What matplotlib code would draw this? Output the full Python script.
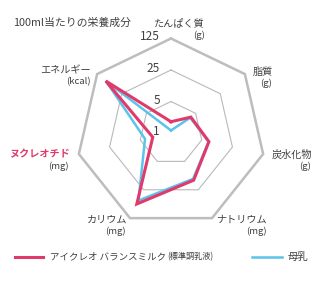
import numpy as np
import matplotlib
matplotlib.use("Agg")
import matplotlib.pyplot as plt

plt.rcParams['font.family'] = ['Noto Sans CJK JP', 'DejaVu Sans']

# ---- data ----
axes_labels = ["たんぱく質", "脂質", "炭水化物", "ナトリウム", "カリウム", "ヌクレオチド", "エネルギー"]
axes_units = ["(g)", "(g)", "(g)", "(mg)", "(mg)", "(mg)", "(kcal)"]
formula_values = [1.78, 3.67, 7.3, 14.5, 56.0, 2.6, 71.0]
breastmilk_values = [1.14, 3.5, 7.2, 13.5, 46.0, 3.9, 70.0]
ring_values = [5, 25, 125]
tick_labels = ["1", "5", "25", "125"]
series_names = ["アイクレオ バランスミルク", "(標準調乳液)", "母乳"]
title = "100ml当たりの栄養成分"

PINK = "#e03a6c"
BLUE = "#5cc3ea"
TEXT = "#404040"
GRID = "#b9b9b9"

W, H = 330, 290
fig = plt.figure(figsize=(W / 100, H / 100), dpi=100)

cx, cy, R = 171, 133, 94.5
ax = fig.add_axes([(cx - R) / W, (H - cy - R) / H, 2 * R / W, 2 * R / H], projection='polar')
ax.set_theta_zero_location('N')
ax.set_theta_direction(-1)
ax.set_ylim(0, 3)
ax.axis('off')

n = len(axes_labels)
theta = np.arange(n) * 2 * np.pi / n
theta_c = np.append(theta, theta[0])


def logr(vals):
    return np.log(np.asarray(vals, dtype=float)) / np.log(5)


for i, rv in enumerate(ring_values):
    r = logr([rv] * (n + 1))
    outer = i == len(ring_values) - 1
    ax.plot(theta_c, r, color="#bdbdbd" if outer else GRID,
            lw=1.8 if outer else 0.8, clip_on=False, zorder=1,
            solid_joinstyle='miter')

fr = logr(np.append(breastmilk_values, breastmilk_values[0]))
ax.plot(theta_c, fr, color=BLUE, lw=1.8, clip_on=False, zorder=3, solid_joinstyle='miter')
pr = logr(np.append(formula_values, formula_values[0]))
ax.plot(theta_c, pr, color=PINK, lw=2.2, clip_on=False, zorder=4, solid_joinstyle='miter')

# tick labels on the top axis
for i, lab in enumerate(tick_labels):
    ax.annotate(lab, xy=(0, i), xytext=(-11, 1.5), textcoords='offset pixels',
                ha='right', va='center', fontsize=8.5, color=TEXT, zorder=5,
                annotation_clip=False)


def px(x, y):
    return x / W, 1 - y / H


label_pos = [(205, 23), (273, 72), (312, 155), (267, 220), (127, 220), (71, 154), (91, 70)]
unit_pos = [(205, 35), (272, 83), (311, 166), (267, 231), (126, 231), (69, 166), (91, 82)]
for i in range(n):
    is_nuc = i == 5
    fig.text(*px(*label_pos[i]), axes_labels[i], ha='right', va='center',
             fontsize=7.3, color=PINK if is_nuc else TEXT,
             fontweight='bold' if is_nuc else 'normal')
    fig.text(*px(*unit_pos[i]), axes_units[i], ha='right', va='center',
             fontsize=6.8, color=TEXT)

fig.text(*px(13, 23), title, ha='left', va='center', fontsize=7.8, color=TEXT)

# legend
ly = 257
fig.add_artist(plt.Line2D([15 / W, 43 / W], [1 - ly / H] * 2, color=PINK, lw=2.2))
t1 = fig.text(*px(50, ly), series_names[0], ha='left', va='center', fontsize=6.8, color=TEXT)
ax.annotate(series_names[1], xy=(1, 0.5), xycoords=t1, xytext=(1, 0),
            textcoords='offset pixels', ha='left', va='center', fontsize=5.9,
            color=TEXT, annotation_clip=False)
fig.add_artist(plt.Line2D([252 / W, 282 / W], [1 - ly / H] * 2, color=BLUE, lw=1.8))
fig.text(*px(288, ly), series_names[2], ha='left', va='center', fontsize=7.5, color=TEXT)

fig.savefig("out.png", dpi=100, facecolor='white')
